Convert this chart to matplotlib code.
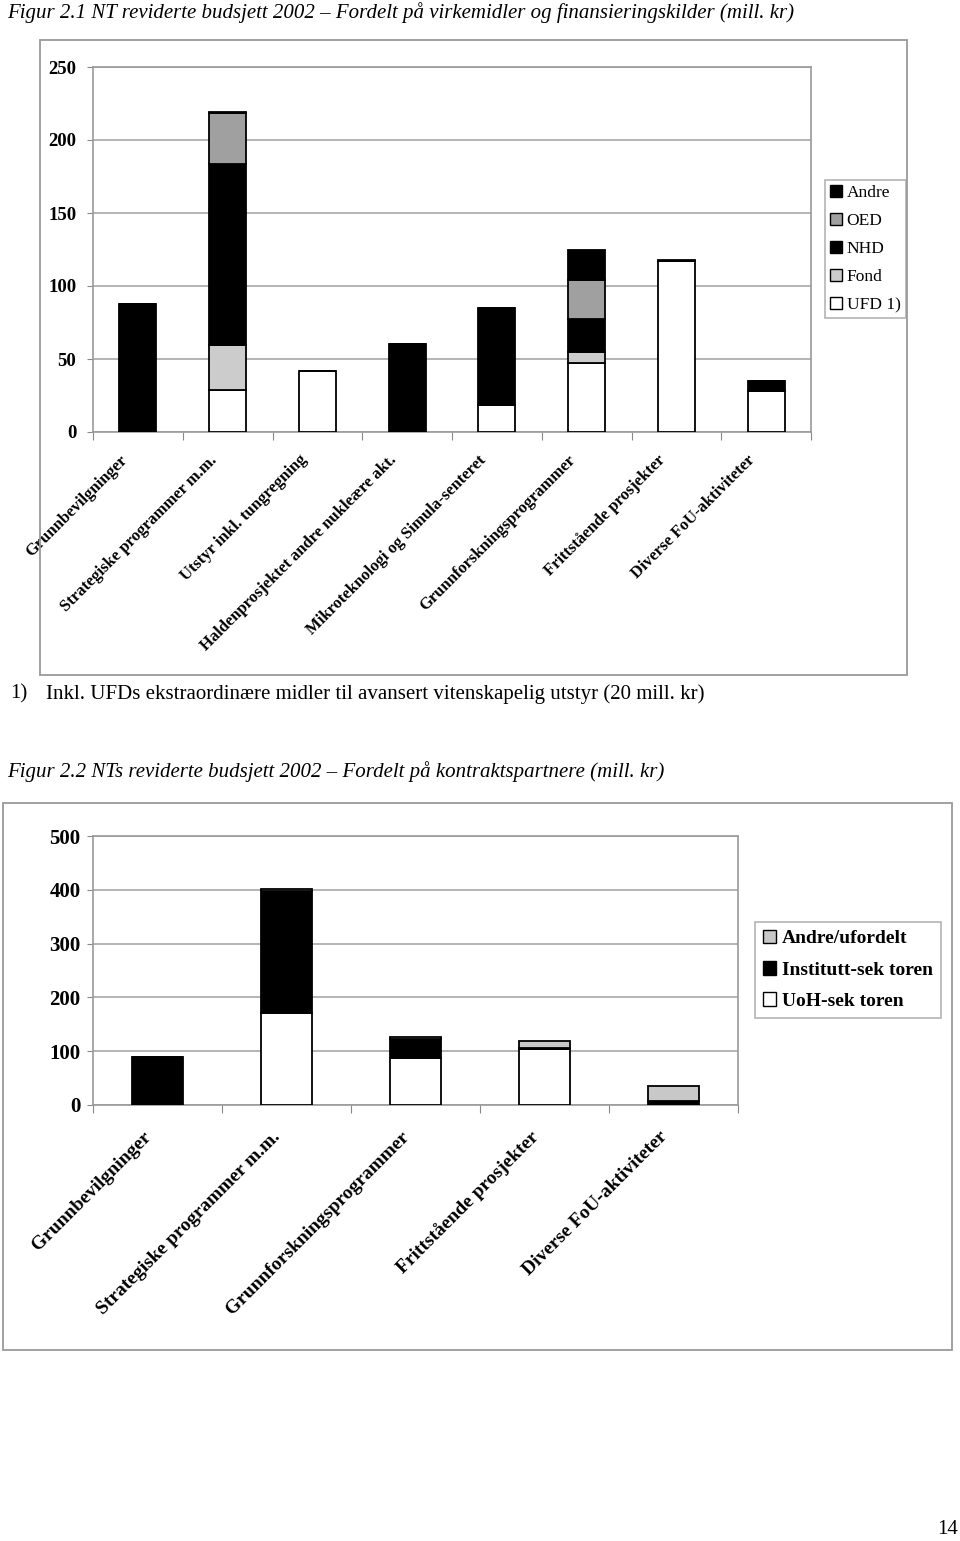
import matplotlib
matplotlib.use('Agg')
import matplotlib.pyplot as plt
import matplotlib.transforms as mtransforms
import numpy as np
from matplotlib.patches import Rectangle, Patch

plt.rcParams['font.family'] = ['Liberation Serif', 'DejaVu Serif']

# Figur 2.1 - virkemidler og finansieringskilder (mill. kr)
kategorier1 = ['Grunnbevilgninger', 'Strategiske programmer m.m.', 'Utstyr inkl. tungregning',
               'Haldenprosjektet andre nukleære akt.', 'Mikroteknologi og Simula-senteret',
               'Grunnforskningsprogrammer', 'Frittstående prosjekter', 'Diverse FoU-aktiviteter']
ufd = [0, 29, 42, 0, 18.5, 47.6, 116.9, 27.8]
fond = [0, 30.8, 0, 0, 0, 6.9, 0, 0]
nhd = [87.5, 123.5, 0, 60.6, 66.5, 23.2, 0, 6.8]
oed = [0, 35.3, 0, 0, 0, 26.4, 0, 0]
andre = [0, 0.5, 0, 0, 0, 20.3, 1.1, 0]
serier1 = ['UFD 1)', 'Fond', 'NHD', 'OED', 'Andre']
farger1 = ['white', '#cccccc', 'black', '#a0a0a0', 'black']

# Figur 2.2 - kontraktspartnere (mill. kr)
kategorier2 = ['Grunnbevilgninger', 'Strategiske programmer m.m.', 'Grunnforskningsprogrammer',
               'Frittstående prosjekter', 'Diverse FoU-aktiviteter']
uoh = [0, 170.6, 87.5, 104.2, 0.5]
institutt = [90, 227.7, 34.7, 2.5, 7]
andre2 = [0, 3.7, 5, 12.4, 28.6]
serier2 = ['UoH-sek toren', 'Institutt-sek toren', 'Andre/ufordelt']
farger2 = ['white', 'black', '#c8c8c8']

W, H = 960, 1541
fig = plt.figure(figsize=(W / 100, H / 100), dpi=100)


def fx(x):
    return x / W


def fy(y):
    return 1 - y / H


def ramme(x0, y0, x1, y1):
    fig.patches.append(Rectangle((fx(x0), fy(y1)), fx(x1) - fx(x0), fy(y0) - fy(y1),
                                 transform=fig.transFigure, fill=False,
                                 edgecolor='#9a9a9a', linewidth=1.3))


def tegn(ax, kategorier, serier, farger, ymax, ystep, bredde, fs_tick, ypad, fs_lab, dx, dy):
    n = len(kategorier)
    x = np.arange(n)
    bunn = np.zeros(n)
    for verdier, farge in zip(serier, farger):
        ax.bar(x, verdier, bredde, bottom=bunn, color=farge, edgecolor='black',
               linewidth=1.3, zorder=3)
        bunn = bunn + np.array(verdier)
    ax.set_xlim(-0.5, n - 0.5)
    ax.set_ylim(0, ymax)
    ax.set_yticks(np.arange(0, ymax + 1, ystep))
    ax.set_yticklabels([str(v) for v in np.arange(0, ymax + 1, ystep)],
                       fontsize=fs_tick, fontweight='bold')
    ax.yaxis.grid(True, color='#a0a0a0', linewidth=1.1, zorder=0)
    ax.tick_params(axis='y', length=4, color='#888888', pad=ypad)
    # tick marks between the categories, labels drawn as rotated texts
    ax.set_xticks(np.arange(-0.5, n, 1))
    ax.set_xticklabels([])
    ax.tick_params(axis='x', length=6, color='#888888')
    trans = ax.get_xaxis_transform() + mtransforms.ScaledTranslation(dx / 100, -dy / 100, fig.dpi_scale_trans)
    for xi, navn in zip(x, kategorier):
        ax.text(xi, 0, navn, transform=trans, rotation=45, ha='right', va='top',
                rotation_mode='anchor', fontsize=fs_lab, fontweight='bold')
    for s in ax.spines.values():
        s.set_color('#9a9a9a')
        s.set_linewidth(1.2)
    ax.set_axisbelow(True)


# ---- Figur 2.1 ----
fig.text(fx(7), fy(13), 'Figur 2.1 NT reviderte budsjett 2002 \u2013 Fordelt på virkemidler og finansieringskilder (mill. kr)',
         fontsize=15, style='italic', ha='left', va='center')
ramme(40, 40, 907, 675)
ax1 = fig.add_axes([fx(93), fy(432), fx(811) - fx(93), fy(67) - fy(432)])
tegn(ax1, kategorier1, [ufd, fond, nhd, oed, andre], farger1, 250, 50, 0.41,
     13.5, 8, 12, -19, 20)

h1 = [Patch(facecolor=c, edgecolor='black', linewidth=1) for c in farger1][::-1]
leg1 = fig.legend(h1, serier1[::-1], loc='upper left', bbox_to_anchor=(fx(825), fy(180)),
                  frameon=True, fancybox=False, edgecolor='#9a9a9a', fontsize=12.5,
                  handlelength=0.7, handleheight=0.7, handletextpad=0.25,
                  labelspacing=0.68, borderpad=0.3, borderaxespad=0)
leg1.get_frame().set_linewidth(1.1)

fig.text(fx(10), fy(694), '1)', fontsize=15, ha='left', va='center')
fig.text(fx(46), fy(694), 'Inkl. UFDs ekstraordinære midler til avansert vitenskapelig utstyr (20 mill. kr)',
         fontsize=15, ha='left', va='center')

# ---- Figur 2.2 ----
fig.text(fx(7), fy(772), 'Figur 2.2 NTs reviderte budsjett 2002 \u2013 Fordelt på kontraktspartnere (mill. kr)',
         fontsize=15, style='italic', ha='left', va='center')
ramme(3, 803, 952, 1350)
ax2 = fig.add_axes([fx(93), fy(1105), fx(738) - fx(93), fy(836) - fy(1105)])
tegn(ax2, kategorier2, [uoh, institutt, andre2], farger2, 500, 100, 0.4,
     15, 5, 14, -15, 23)

h2 = [Patch(facecolor=c, edgecolor='black', linewidth=1) for c in farger2][::-1]
leg2 = fig.legend(h2, serier2[::-1], loc='upper left', bbox_to_anchor=(fx(755), fy(922)),
                  frameon=True, fancybox=False, edgecolor='#9a9a9a',
                  prop={'size': 14, 'weight': 'bold'},
                  handlelength=0.7, handleheight=0.7, handletextpad=0.3,
                  labelspacing=0.7, borderpad=0.4, borderaxespad=0)
leg2.get_frame().set_linewidth(1.1)

fig.text(fx(958), fy(1530), '14', fontsize=15, ha='right', va='center')

fig.savefig('out.png', dpi=100)
